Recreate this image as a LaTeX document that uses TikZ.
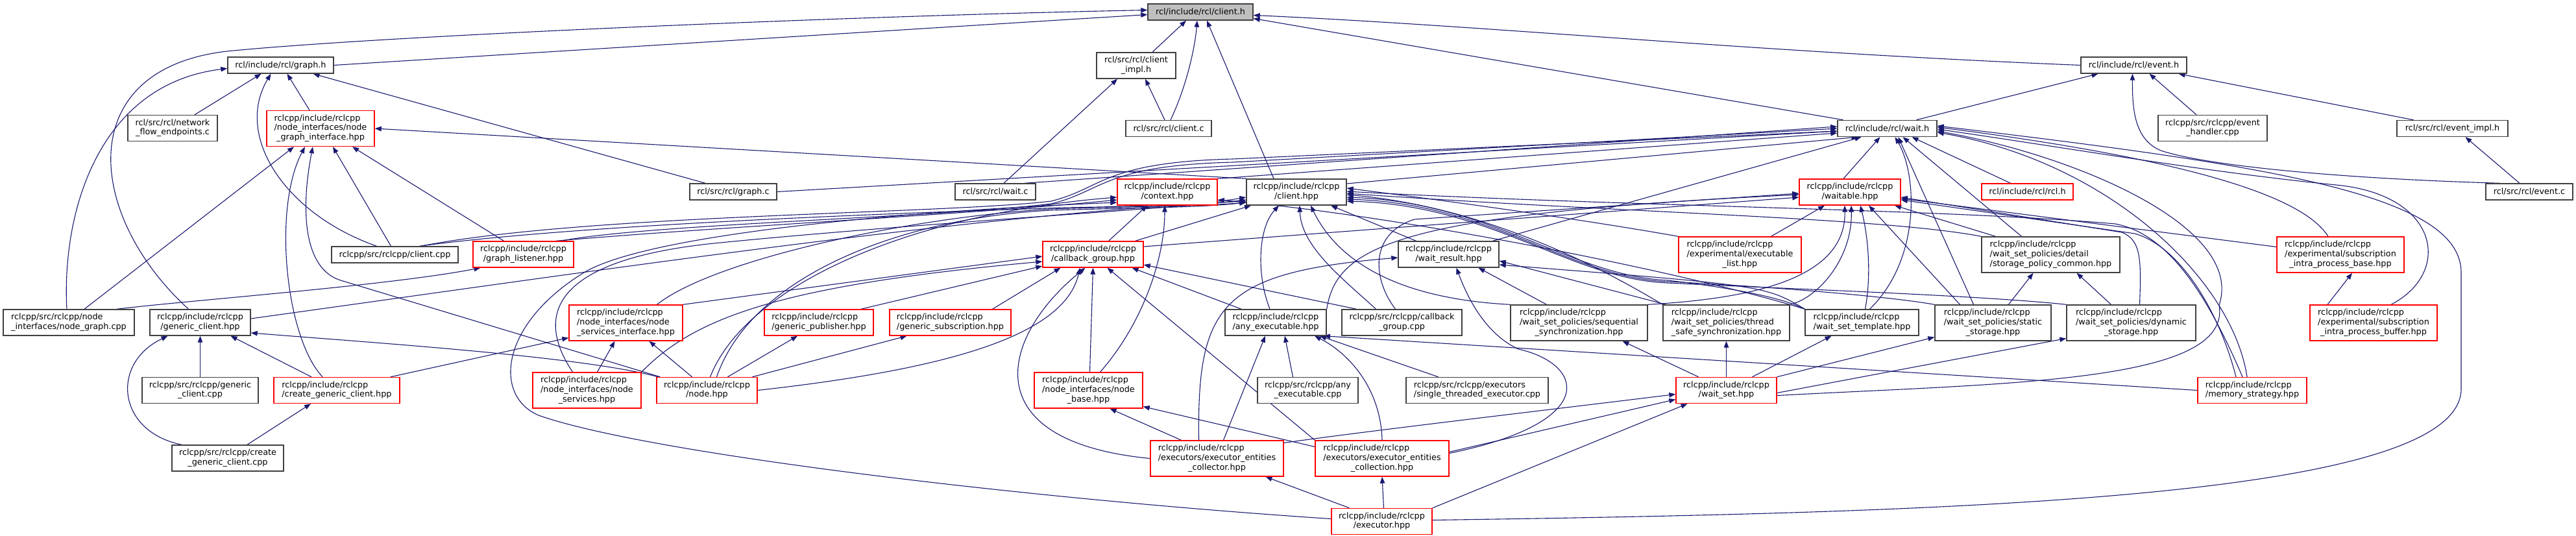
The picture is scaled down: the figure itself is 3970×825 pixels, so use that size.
\documentclass[tikz,border=0pt]{standalone}
\usepackage{fontspec}
\newfontfamily\dgfont{DejaVu Sans}
\usetikzlibrary{arrows.meta}
\pgfdeclarelayer{background}
\pgfsetlayers{background,main}
\definecolor{edgeblue}{HTML}{191970}
\definecolor{boxgray}{HTML}{404040}
\definecolor{boxred}{HTML}{FF0000}
\definecolor{rootgray}{HTML}{BFBFBF}
\newcommand{\twoln}[2]{\begin{tabular}{@{}l@{}}#1\\\multicolumn{1}{@{}c@{}}{#2}\end{tabular}}
\newcommand{\threeln}[3]{\begin{tabular}{@{}l@{}}#1\\#2\\\multicolumn{1}{@{}c@{}}{#3}\end{tabular}}

\begin{document}
\begin{tikzpicture}[x=1pt,y=-1pt,
  hdr/.style={draw=boxgray,fill=white,line width=1.4pt,inner sep=0pt,font={\dgfont\fontsize{12.8}{14.6}\selectfont}},
  hdrtrunc/.style={hdr,draw=boxred},
  hdrroot/.style={hdr,fill=rootgray},
  ln1/.style={minimum height=25pt},
  ln2/.style={minimum height=40pt},
  ln3/.style={minimum height=55pt},
  incl/.style={draw=edgeblue,line width=1.1pt,-{Triangle[length=10pt,width=7.5pt]}}]
  \useasboundingbox (0,0) rectangle (3970,825);

  \node[hdrroot,ln1,minimum width=162pt] (clienth) at (1850,18.5) {rcl/include/rcl/client.h};
  \node[hdr,ln1,minimum width=163pt] (graphh) at (432.5,100.5) {rcl/include/rcl/graph.h};
  \node[hdr,ln2,minimum width=122pt] (clientimpl) at (1751,101) {\twoln{rcl/src/rcl/client}{\_impl.h}};
  \node[hdr,ln1,minimum width=163pt] (eventh) at (3288.5,100.5) {rcl/include/rcl/event.h};
  \node[hdr,ln2,minimum width=138pt] (nfe) at (266,197.5) {\twoln{rcl/src/rcl/network}{\_flow\_endpoints.c}};
  \node[hdrtrunc,ln3,minimum width=166pt] (ngi) at (494,198) {\threeln{rclcpp/include/rclcpp}{/node\_interfaces/node}{\_graph\_interface.hpp}};
  \node[hdr,ln1,minimum width=132pt] (clientc) at (1801,198) {rcl/src/rcl/client.c};
  \node[hdr,ln1,minimum width=153pt] (waith) at (2908.5,198) {rcl/include/rcl/wait.h};
  \node[hdr,ln2,minimum width=168pt] (evhandler) at (3410,197.5) {\twoln{rclcpp/src/rclcpp/event}{\_handler.cpp}};
  \node[hdr,ln1,minimum width=171pt] (eventimpl) at (3779.5,198) {rcl/src/rcl/event\_impl.h};
  \node[hdr,ln1,minimum width=134pt] (graphc) at (1130,295.5) {rcl/src/rcl/graph.c};
  \node[hdr,ln1,minimum width=124pt] (waitc) at (1534,295.5) {rcl/src/rcl/wait.c};
  \node[hdrtrunc,ln2,minimum width=154pt] (context) at (1799,296) {\twoln{rclcpp/include/rclcpp}{/context.hpp}};
  \node[hdr,ln2,minimum width=154pt] (clienthpp) at (1998,296) {\twoln{rclcpp/include/rclcpp}{/client.hpp}};
  \node[hdrtrunc,ln2,minimum width=156pt] (waitable) at (2851,296) {\twoln{rclcpp/include/rclcpp}{/waitable.hpp}};
  \node[hdrtrunc,ln1,minimum width=141pt] (rclh) at (3124.5,295.5) {rcl/include/rcl/rcl.h};
  \node[hdr,ln1,minimum width=134pt] (eventc) at (3898,295.5) {rcl/src/rcl/event.c};
  \node[hdr,ln1,minimum width=195pt] (clientcpp) at (608.5,392.5) {rclcpp/src/rclcpp/client.cpp};
  \node[hdrtrunc,ln2,minimum width=155pt] (glistener) at (806.5,392) {\twoln{rclcpp/include/rclcpp}{/graph\_listener.hpp}};
  \node[hdrtrunc,ln2,minimum width=155pt] (cbgroup) at (1684.5,392) {\twoln{rclcpp/include/rclcpp}{/callback\_group.hpp}};
  \node[hdr,ln2,minimum width=155pt] (waitresult) at (2232.5,392) {\twoln{rclcpp/include/rclcpp}{/wait\_result.hpp}};
  \node[hdrtrunc,ln3,minimum width=189pt] (execlist) at (2681.5,392.5) {\threeln{rclcpp/include/rclcpp}{/experimental/executable}{\_list.hpp}};
  \node[hdr,ln3,minimum width=213pt] (storagecommon) at (3160.5,392.5) {\threeln{rclcpp/include/rclcpp}{/wait\_set\_policies/detail}{/storage\_policy\_common.hpp}};
  \node[hdrtrunc,ln3,minimum width=196pt] (sipbase) at (3607,392.5) {\threeln{rclcpp/include/rclcpp}{/experimental/subscription}{\_intra\_process\_base.hpp}};
  \node[hdr,ln2,minimum width=202pt] (nodegraph) at (106,497) {\twoln{rclcpp/src/rclcpp/node}{\_interfaces/node\_graph.cpp}};
  \node[hdr,ln2,minimum width=155pt] (genclient) at (308.5,497) {\twoln{rclcpp/include/rclcpp}{/generic\_client.hpp}};
  \node[hdrtrunc,ln3,minimum width=175pt] (nsi) at (964.5,497.5) {\threeln{rclcpp/include/rclcpp}{/node\_interfaces/node}{\_services\_interface.hpp}};
  \node[hdrtrunc,ln2,minimum width=168pt] (genpub) at (1262,497) {\twoln{rclcpp/include/rclcpp}{/generic\_publisher.hpp}};
  \node[hdrtrunc,ln2,minimum width=187pt] (gensub) at (1464.5,497) {\twoln{rclcpp/include/rclcpp}{/generic\_subscription.hpp}};
  \node[hdr,ln2,minimum width=156pt] (anyexec) at (1966,497) {\twoln{rclcpp/include/rclcpp}{/any\_executable.hpp}};
  \node[hdr,ln2,minimum width=185pt] (cbgroupcpp) at (2160.5,497) {\twoln{rclcpp/src/rclcpp/callback}{\_group.cpp}};
  \node[hdr,ln3,minimum width=211pt] (seqsync) at (2433.5,497.5) {\threeln{rclcpp/include/rclcpp}{/wait\_set\_policies/sequential}{\_synchronization.hpp}};
  \node[hdr,ln3,minimum width=195pt] (tssync) at (2660.5,497.5) {\threeln{rclcpp/include/rclcpp}{/wait\_set\_policies/thread}{\_safe\_synchronization.hpp}};
  \node[hdr,ln2,minimum width=175pt] (wstemplate) at (2869.5,497) {\twoln{rclcpp/include/rclcpp}{/wait\_set\_template.hpp}};
  \node[hdr,ln3,minimum width=179pt] (staticst) at (3071.5,497.5) {\threeln{rclcpp/include/rclcpp}{/wait\_set\_policies/static}{\_storage.hpp}};
  \node[hdr,ln3,minimum width=199pt] (dynamicst) at (3284.5,497.5) {\threeln{rclcpp/include/rclcpp}{/wait\_set\_policies/dynamic}{\_storage.hpp}};
  \node[hdrtrunc,ln3,minimum width=196pt] (sipbuffer) at (3658,497.5) {\threeln{rclcpp/include/rclcpp}{/experimental/subscription}{\_intra\_process\_buffer.hpp}};
  \node[hdr,ln2,minimum width=179pt] (genclientcpp) at (308.5,601.5) {\twoln{rclcpp/src/rclcpp/generic}{\_client.cpp}};
  \node[hdrtrunc,ln2,minimum width=194pt] (creategen) at (519,601.5) {\twoln{rclcpp/include/rclcpp}{/create\_generic\_client.hpp}};
  \node[hdrtrunc,ln3,minimum width=167pt] (nservices) at (904.5,601.5) {\threeln{rclcpp/include/rclcpp}{/node\_interfaces/node}{\_services.hpp}};
  \node[hdrtrunc,ln2,minimum width=155pt] (nodehpp) at (1089.5,601.5) {\twoln{rclcpp/include/rclcpp}{/node.hpp}};
  \node[hdrtrunc,ln3,minimum width=167pt] (nodebase) at (1677.5,601.5) {\threeln{rclcpp/include/rclcpp}{/node\_interfaces/node}{\_base.hpp}};
  \node[hdr,ln2,minimum width=155pt] (anyexeccpp) at (2015.5,601.5) {\twoln{rclcpp/src/rclcpp/any}{\_executable.cpp}};
  \node[hdr,ln2,minimum width=219pt] (stexec) at (2276.5,601.5) {\twoln{rclcpp/src/rclcpp/executors}{/single\_threaded\_executor.cpp}};
  \node[hdrtrunc,ln2,minimum width=155pt] (waitset) at (2660.5,601.5) {\twoln{rclcpp/include/rclcpp}{/wait\_set.hpp}};
  \node[hdrtrunc,ln2,minimum width=168pt] (memstrat) at (3471,601.5) {\twoln{rclcpp/include/rclcpp}{/memory\_strategy.hpp}};
  \node[hdr,ln2,minimum width=172pt] (creategencpp) at (351,706) {\twoln{rclcpp/src/rclcpp/create}{\_generic\_client.cpp}};
  \node[hdrtrunc,ln3,minimum width=205pt] (collector) at (1875.5,706.5) {\threeln{rclcpp/include/rclcpp}{/executors/executor\_entities}{\_collector.hpp}};
  \node[hdrtrunc,ln3,minimum width=206pt] (collection) at (2130,706.5) {\threeln{rclcpp/include/rclcpp}{/executors/executor\_entities}{\_collection.hpp}};
  \node[hdrtrunc,ln2,minimum width=155pt] (executor) at (2129.5,803.5) {\twoln{rclcpp/include/rclcpp}{/executor.hpp}};

  \begin{pgfonlayer}{background}
  % rcl headers
  \draw[incl] (graphh.east) -- ([yshift=-4]clienth.west);
  \draw[incl] ([xshift=-18]genclient.north) .. controls (130,330) and (110,100) .. (360,78) .. controls (600,55) and (1300,25) .. ([yshift=3]clienth.west);
  \draw[incl] ([xshift=25]clientimpl.north) -- ([xshift=-22]clienth.south);
  \draw[incl] ([xshift=3]clientc.north) .. controls (1830,130) and (1842,70) .. ([xshift=-5]clienth.south);
  \draw[incl] ([xshift=-35]clienthpp.north) -- ([xshift=10]clienth.south);
  \draw[incl] (eventh.west) .. controls (2700,80) and (2300,40) .. ([yshift=-5]clienth.east);
  \draw[incl] ([xshift=-68]waith.north) -- ([yshift=-10]clienth.east);
  \draw[incl] ([xshift=-3]nodegraph.north) .. controls (95,330) and (150,130) .. ([yshift=-5]graphh.west);
  \draw[incl] ([xshift=34]nfe.north) -- ([xshift=-30]graphh.south);
  \draw[incl] ([xshift=-28]clientcpp.north) .. controls (440,330) and (360,210) .. ([xshift=-15]graphh.south);
  \draw[incl] ([xshift=-17]ngi.north) -- ([xshift=10]graphh.south);
  \draw[incl] ([xshift=-43]graphc.north) -- ([xshift=50]graphh.south);
  \draw[incl] ([xshift=13]waitc.north) -- ([xshift=-29]clientimpl.south);
  \draw[incl] ([xshift=-6]clientc.north) -- ([xshift=14]clientimpl.south);
  \draw[incl] ([xshift=45]waith.north) -- ([xshift=-55]eventh.south);
  \draw[incl] ([xshift=-25]evhandler.north) -- ([xshift=24]eventh.south);
  \draw[incl] ([xshift=-46]eventc.north) .. controls (3600,275) and (3400,255) .. (3330,232) .. controls (3290,215) and (3286,170) .. ([xshift=-2]eventh.south);
  \draw[incl] ([xshift=-60]eventimpl.north) -- ([xshift=69]eventh.south);
  \draw[incl] ([xshift=-15]eventc.north) -- ([xshift=20]eventimpl.south);

  % node graph interface and generic client
  \draw[incl] ([xshift=24]nodegraph.north) -- ([xshift=-41]ngi.south);
  \draw[incl] ([xshift=-22]creategen.north) .. controls (440,520) and (420,320) .. ([xshift=-24]ngi.south);
  \draw[incl] ([xshift=6]nodehpp.north west) -- (525,432) .. controls (470,415) and (462,330) .. ([xshift=-12]ngi.south);
  \draw[incl] ([xshift=-6]clientcpp.north) -- ([xshift=19]ngi.south);
  \draw[incl] ([xshift=-30]glistener.north) -- ([xshift=49]ngi.south);
  \draw[incl] (clienthpp.north west) -- (ngi.east);
  \draw[incl] (genclientcpp) -- (genclient);
  \draw[incl] ([xshift=-71]creategencpp.north) .. controls (180,665) and (170,560) .. ([xshift=-50]genclient.south);
  \draw[incl] ([xshift=-39]creategen.north) -- ([xshift=47]genclient.south);
  \draw[incl] ([xshift=3]nodehpp.north west) .. controls (900,550) and (600,530) .. ([yshift=-16]genclient.east);
  \draw[incl] ([yshift=6]genclient.east) .. controls (900,420) and (1500,330) .. ([yshift=-14]clienthpp.west);
  \draw[incl] ([xshift=30]creategencpp.north) -- ([xshift=-40]creategen.south);
  \draw[incl] ([xshift=83]creategen.north) -- ([yshift=-23]nsi.west);
  \draw[incl] ([xshift=16]nservices.north) -- ([xshift=-17]nsi.south);
  \draw[incl] ([xshift=-23]nodehpp.north) -- ([xshift=36]nsi.south);
  \draw[incl] ([xshift=74]nodegraph.north) .. controls (300,462) and (600,440) .. ([xshift=-66]glistener.south);
  \draw[incl] ([xshift=32]nodehpp.north) -- ([xshift=-33]genpub.south);
  \draw[incl] ([xshift=70]nodehpp.north) -- ([xshift=-67]gensub.south);

  % callback group
  \draw[incl] (nsi.north east) -- ([yshift=-3]cbgroup.west);
  \draw[incl] (nservices.north east) .. controls (1070,490) and (1200,440) .. ([yshift=-11]cbgroup.west);
  \draw[incl] ([xshift=65]genpub.north) -- ([yshift=-18]cbgroup.west);
  \draw[incl] ([xshift=65]gensub.north) -- ([xshift=-50]cbgroup.south);
  \draw[incl] (nodehpp.east) .. controls (1450,570) and (1640,520) .. ([xshift=-20]cbgroup.south);
  \draw[incl] (collector.west) .. controls (1500,680) and (1540,520) .. ([xshift=-12]cbgroup.south);
  \draw[incl] ([xshift=2]nodebase.north) -- (cbgroup.south);
  \draw[incl] (collection.north west) -- ([xshift=22]cbgroup.south);
  \draw[incl] ([xshift=-53]anyexec.north) -- ([xshift=60]cbgroup.south);
  \draw[incl] ([xshift=-70]cbgroupcpp.north) -- ([yshift=-16]cbgroup.east);
  \draw[incl] ([xshift=65]cbgroup.north) -- ([xshift=-70]clienthpp.south);
  \draw[incl] ([xshift=24]cbgroup.north) -- ([xshift=-31]context.south);
  \draw[incl] ([yshift=12]cbgroup.east) -- ([yshift=-8]waitable.west);

  % context
  \draw[incl] ([xshift=18]nodebase.north) .. controls (1760,500) and (1795,400) .. ([xshift=-4]context.south);
  \draw[incl] ([xshift=50]glistener.north) .. controls (1100,350) and (1500,330) .. ([yshift=-12]context.west);
  \draw[incl] ([yshift=4]executor.west) .. controls (1600,770) and (1000,700) .. (830,640) .. controls (760,610) and (770,500) .. (900,420) .. controls (1000,360) and (1400,325) .. ([yshift=-16]context.west);
  \draw[incl] ([xshift=5]nodehpp.north) .. controls (1150,440) and (1400,330) .. ([yshift=-8]context.west);
  \draw[incl] (wstemplate.north west) .. controls (2600,420) and (2150,330) .. ([yshift=-12]context.east);

  % client.hpp from the left
  \draw[incl] ([xshift=48]nsi.north) .. controls (1100,400) and (1400,335) .. (1620,322) .. controls (1750,318) and (1850,318) .. ([yshift=-16]clienthpp.west);
  \draw[incl] ([xshift=15]nodehpp.north) .. controls (1160,420) and (1400,335) .. (1620,324) .. controls (1750,320) and (1850,320) .. ([yshift=-16]clienthpp.west);
  \draw[incl] ([xshift=-22]nservices.north) .. controls (820,480) and (860,400) .. (1100,375) .. controls (1400,345) and (1800,322) .. ([yshift=-12]clienthpp.west);
  \draw[incl] ([xshift=38]clientcpp.north) .. controls (900,345) and (1400,328) .. (1640,320) .. controls (1750,318) and (1850,316) .. ([yshift=-8]clienthpp.west);

  % client.hpp from below and right
  \draw[incl] ([xshift=-9]anyexec.north) .. controls (1935,420) and (1940,350) .. ([xshift=-27]clienthpp.south);
  \draw[incl] ([xshift=-40]cbgroupcpp.north) .. controls (2070,430) and (2005,380) .. ([xshift=5]clienthpp.south);
  \draw[incl] (seqsync.north west) .. controls (2150,460) and (2060,400) .. ([xshift=22]clienthpp.south);
  \draw[incl] ([xshift=-50]waitresult.north) -- ([xshift=53]clienthpp.south);
  \draw[incl] (execlist.north west) .. controls (2450,340) and (2250,312) .. ([yshift=6]clienthpp.east);
  \draw[incl] (tssync.north west) .. controls (2480,420) and (2300,320) .. ([yshift=-4]clienthpp.east);
  \draw[incl] (wstemplate.north west) .. controls (2740,455) and (2640,440) .. (2570,432) .. controls (2420,425) and (2300,312) .. ([yshift=-8]clienthpp.east);
  \draw[incl] (staticst.north west) .. controls (2900,455) and (2700,440) .. (2570,434) .. controls (2420,428) and (2300,314) .. ([yshift=-11]clienthpp.east);
  \draw[incl] (dynamicst.north west) .. controls (3050,455) and (2750,445) .. (2570,436) .. controls (2420,430) and (2300,316) .. ([yshift=-14]clienthpp.east);
  \draw[incl] (storagecommon.north west) .. controls (2900,335) and (2500,328) .. ([yshift=-2]clienthpp.east);
  \draw[incl] ([xshift=-15]memstrat.north) .. controls (3400,450) and (3340,360) .. (3260,345) .. controls (3000,322) and (2500,318) .. ([yshift=1]clienthpp.east);

  % wait.h
  \draw[incl] ([xshift=40]clientcpp.north) .. controls (900,330) and (1450,330) .. (1620,310) .. controls (1700,290) and (1700,250) .. (1900,245) -- ([yshift=-4]waith.west);
  \draw[incl] ([xshift=58]glistener.north) .. controls (1000,345) and (1450,335) .. (1620,314) .. controls (1700,295) and (1700,255) .. (1900,250) -- (waith.west);
  \draw[incl] (graphc.east) -- ([yshift=-4]waith.west);
  \draw[incl] ([xshift=45]waitc.north) -- ([yshift=3]waith.west);
  \draw[incl] (context.north east) -- ([yshift=-7]waith.west);
  \draw[incl] ([yshift=13]clienthpp.east) -- ([xshift=-45]waith.south);
  \draw[incl] ([xshift=68]waitresult.north) -- ([xshift=-40]waith.south);
  \draw[incl] ([xshift=-10]waitable.north) -- ([xshift=-11]waith.south);
  \draw[incl] ([xshift=12]wstemplate.north) .. controls (2960,400) and (2955,270) .. ([xshift=12]waith.south);
  \draw[incl] ([xshift=-30]staticst.north) -- ([xshift=17]waith.south);
  \draw[incl] ([xshift=-45]storagecommon.north) -- ([xshift=24]waith.south);
  \draw[incl] ([xshift=-26]rclh.north) -- ([xshift=38]waith.south);
  \draw[incl] ([xshift=-19]sipbase.north) .. controls (3560,320) and (3450,255) .. ([yshift=2]waith.east);
  \draw[incl] ([xshift=27]sipbuffer.north) .. controls (3780,420) and (3760,300) .. (3600,285) .. controls (3400,265) and (3200,230) .. ([yshift=-1]waith.east);
  \draw[incl] ([yshift=-8]waitset.east) .. controls (3100,590) and (3440,590) .. (3420,470) .. controls (3460,350) and (3200,240) .. ([yshift=-4]waith.east);
  \draw[incl] ([xshift=-8]memstrat.north) .. controls (3440,430) and (3250,250) .. ([yshift=-6]waith.east);
  \draw[incl] ([yshift=2]executor.east) .. controls (3000,790) and (3790,770) .. (3793,600) -- (3793,420) .. controls (3793,300) and (3500,255) .. ([yshift=4]waith.east);

  % waitable
  \draw[incl] ([xshift=48]execlist.north) -- ([xshift=-39]waitable.south);
  \draw[incl] (seqsync.north east) .. controls (2700,460) and (2845,430) .. ([xshift=-8]waitable.south);
  \draw[incl] (tssync.north east) .. controls (2800,460) and (2855,400) .. ([xshift=2]waitable.south);
  \draw[incl] ([xshift=5]wstemplate.north) .. controls (2885,420) and (2878,360) .. ([xshift=16]waitable.south);
  \draw[incl] ([xshift=-51]staticst.north) -- ([xshift=29]waitable.south);
  \draw[incl] ([xshift=-85]storagecommon.north) -- ([xshift=69]waitable.south);
  \draw[incl] ([xshift=13]dynamicst.north) .. controls (3300,400) and (3300,370) .. (3270,358) -- ([yshift=-8]waitable.east);
  \draw[incl] ([yshift=12]sipbase.west) -- ([yshift=-10]waitable.east);
  \draw[incl] ([xshift=-25]memstrat.north) .. controls (3420,480) and (3360,380) .. (3290,360) -- ([yshift=-12]waitable.east);
  \draw[incl] (anyexec.north east) .. controls (2060,380) and (2150,330) .. ([yshift=-4]waitable.west);
  \draw[incl] ([xshift=-10]cbgroupcpp.north) .. controls (2115,430) and (2110,360) .. (2180,338) -- ([yshift=-2]waitable.west);

  % wait result
  \draw[incl] ([xshift=-28]collector.north) .. controls (1845,470) and (1880,420) .. ([yshift=-5]waitresult.west);
  \draw[incl] ([yshift=8]collection.east) .. controls (2470,650) and (2440,560) .. (2340,538) .. controls (2290,515) and (2262,460) .. ([xshift=12]waitresult.south);
  \draw[incl] ([xshift=-50]seqsync.north) -- ([xshift=46]waitresult.south);
  \draw[incl] ([xshift=5]tssync.north west) -- ([yshift=-10]waitresult.east);
  \draw[incl] (wstemplate.north west) .. controls (2720,440) .. ([yshift=-16]waitresult.east);

  % wait set and policies
  \draw[incl] ([yshift=24]collector.east) .. controls (2100,665) and (2400,630) .. ([yshift=-6]waitset.west);
  \draw[incl] ([yshift=10]collection.east) -- ([yshift=-14]waitset.west);
  \draw[incl] (executor.north east) -- ([xshift=-60]waitset.south);
  \draw[incl] ([xshift=-43]waitset.north) -- ([xshift=67]seqsync.south);
  \draw[incl] (waitset.north) -- (tssync.south);
  \draw[incl] ([xshift=40]waitset.north) -- ([xshift=-47]wstemplate.south);
  \draw[incl] (waitset.north east) -- ([yshift=-22]staticst.west);
  \draw[incl] ([yshift=-4]waitset.east) -- ([yshift=-24]dynamicst.west);
  \draw[incl] ([xshift=24]staticst.north) -- ([xshift=-27]storagecommon.south);
  \draw[incl] ([xshift=-31]dynamicst.north) -- ([xshift=40]storagecommon.south);
  \draw[incl] ([xshift=-71]sipbuffer.north) -- ([xshift=18]sipbase.south);

  % executors
  \draw[incl] ([xshift=-55]collector.north) -- ([xshift=33]nodebase.south);
  \draw[incl] ([xshift=10]collector.north) -- ([xshift=-16]anyexec.south);
  \draw[incl] ([yshift=18]collection.west) -- ([yshift=-25]nodebase.east);
  \draw[incl] (collection.north) .. controls (2128,600) and (2080,545) .. ([xshift=60]anyexec.south);
  \draw[incl] ([xshift=3]executor.north) -- (collection.south);
  \draw[incl] ([xshift=-50]executor.north) -- ([xshift=75]collector.south);
  \draw[incl] ([xshift=-23]anyexeccpp.north) -- ([xshift=14]anyexec.south);
  \draw[incl] ([xshift=-60]stexec.north) -- ([xshift=68]anyexec.south);
  \draw[incl] (memstrat.west) -- ([xshift=74]anyexec.south);
  \end{pgfonlayer}
\end{tikzpicture}
\end{document}
